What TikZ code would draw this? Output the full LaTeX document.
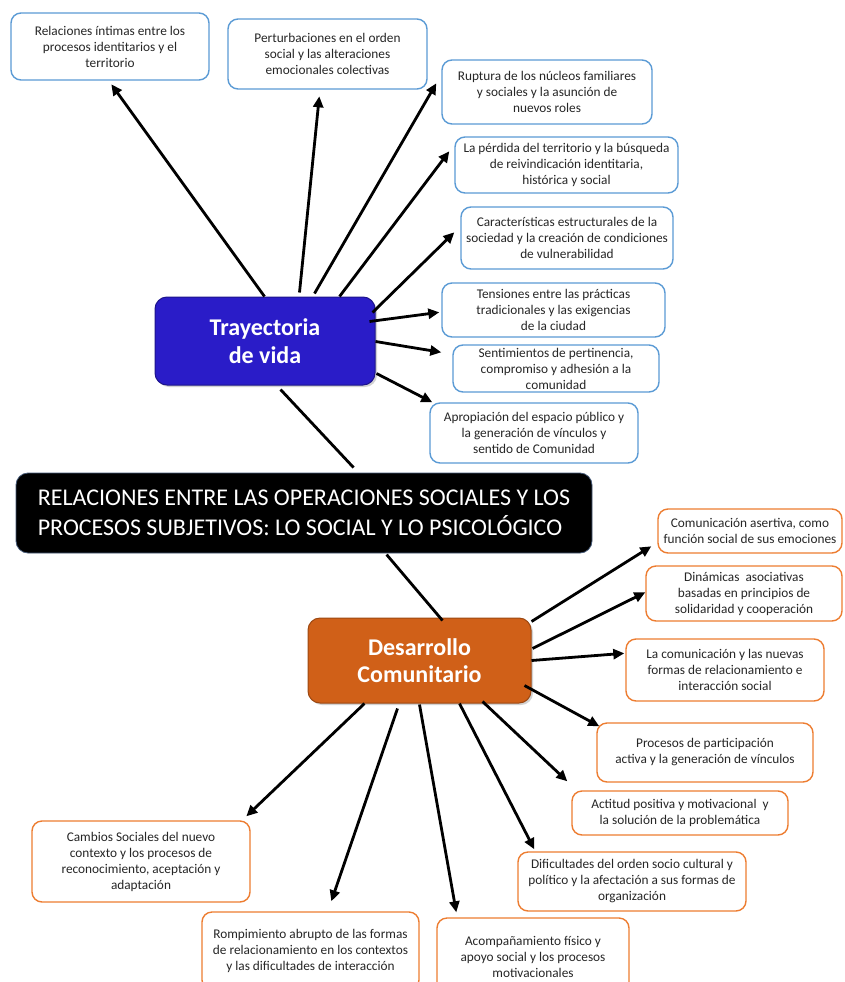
\documentclass[tikz,border=0pt]{standalone}
\usepackage{fontspec}
\setmainfont{Carlito}
\usetikzlibrary{arrows.meta,calc,shadows}
\definecolor{boxblue}{RGB}{91,155,213}
\definecolor{boxorange}{RGB}{237,125,49}
\definecolor{trayfill}{RGB}{42,28,200}
\definecolor{devfill}{RGB}{208,96,24}
\definecolor{titleedge}{RGB}{70,90,120}

\begin{document}
\begin{tikzpicture}[x=1pt,y=-1pt,
  box/.style={rounded corners=10pt, line width=1.4pt, fill=white, align=center,
    inner sep=0pt, font=\fontsize{13.3}{16}\selectfont, text=black!85},
  bluebox/.style={box, draw=boxblue},
  orangebox/.style={box, draw=boxorange},
  hub/.style={rounded corners=12pt, align=center, inner sep=0pt, text=white,
    font=\bfseries\fontsize{24}{27.5}\selectfont, line width=1pt,
    drop shadow={opacity=0.35,shadow xshift=2pt,shadow yshift=-2pt}},
  arr/.style={line width=2.8pt, -{Triangle[length=11pt,width=10pt]}},
  link/.style={line width=2.8pt},
]
\clip (0,0) rectangle (844,982);
\fill[white] (0,0) rectangle (844,982);

% central title
\node[rounded corners=12pt, fill=black, draw=titleedge, line width=0.8pt,
  minimum width=576pt, minimum height=80pt, align=left,
  inner sep=0pt, text=white, font=\fontsize{24}{30}\selectfont] (title) at (304,513)
  {RELACIONES ENTRE LAS OPERACIONES SOCIALES Y LOS\\PROCESOS SUBJETIVOS: LO SOCIAL Y LO PSICOLÓGICO};

% hubs
\node[hub, fill=trayfill, draw=trayfill!70!black, minimum width=220pt, minimum height=88pt] (tray) at (265,341)
  {Trayectoria\\de vida};
\node[hub, fill=devfill, draw=devfill!75!black, minimum width=223pt, minimum height=85pt] (dev) at (419.5,660.5)
  {Desarrollo\\Comunitario};

% blue boxes (Trayectoria de vida)
\node[bluebox, minimum width=198pt, minimum height=67pt] (b1) at (110,46.5)
  {Relaciones íntimas entre los\\procesos identitarios y el\\territorio};
\node[bluebox, minimum width=199pt, minimum height=70pt] (b2) at (327.5,54)
  {Perturbaciones en el orden\\social y las alteraciones\\emocionales colectivas};
\node[bluebox, minimum width=210pt, minimum height=64pt] (b3) at (547,92)
  {Ruptura de los núcleos familiares\\y sociales y la asunción de\\nuevos roles};
\node[bluebox, minimum width=223pt, minimum height=56pt] (b4) at (566.5,165)
  {La pérdida del territorio y la búsqueda\\de reivindicación identitaria,\\histórica y social};
\node[bluebox, minimum width=212pt, minimum height=62pt] (b5) at (567,238)
  {Características estructurales de la\\sociedad y la creación de condiciones\\de vulnerabilidad};
\node[bluebox, minimum width=223pt, minimum height=54pt] (b6) at (553.5,310)
  {Tensiones entre las prácticas\\tradicionales y las exigencias\\de la ciudad};
\node[bluebox, minimum width=206pt, minimum height=47pt] (b7) at (556,368.5)
  {Sentimientos de pertinencia,\\compromiso y adhesión a la\\comunidad};
\node[bluebox, minimum width=208pt, minimum height=60pt] (b8) at (534,433)
  {Apropiación del espacio público y\\la generación de vínculos y\\sentido de Comunidad};

% orange boxes (Desarrollo Comunitario)
\node[orangebox, minimum width=184pt, minimum height=44pt] (o1) at (750,531)
  {Comunicación asertiva, como\\función social de sus emociones};
\node[orangebox, minimum width=196pt, minimum height=55pt] (o2) at (744,593.5)
  {Dinámicas\ \ asociativas\\basadas en principios de\\solidaridad y cooperación};
\node[orangebox, minimum width=198pt, minimum height=62pt] (o3) at (725,670)
  {La comunicación y las nuevas\\formas de relacionamiento e\\interacción social};
\node[orangebox, minimum width=216pt, minimum height=59pt] (o4) at (705,752.5)
  {Procesos de participación\\activa y la generación de vínculos};
\node[orangebox, minimum width=216pt, minimum height=44pt] (o5) at (680,813)
  {Actitud positiva y motivacional\ \ y\\la solución de la problemática};
\node[orangebox, minimum width=228pt, minimum height=59pt] (o6) at (632,881.5)
  {Dificultades del orden socio cultural y\\político y la afectación a sus formas de\\organización};
\node[orangebox, minimum width=192pt, minimum height=77pt] (o7) at (533,956.5)
  {Acompañamiento físico y\\apoyo social y los procesos\\motivacionales};
\node[orangebox, minimum width=217pt, minimum height=78pt] (o8) at (310.5,951)
  {Rompimiento abrupto de las formas\\de relacionamiento en los contextos\\y las dificultades de interacción};
\node[orangebox, minimum width=218pt, minimum height=81pt] (o9) at (141,861.5)
  {Cambios Sociales del nuevo\\contexto y los procesos de\\reconocimiento, aceptación y\\adaptación};

% links between the title and the hubs
\draw[link] ($(tray.north west)+(126,93)$) -- ($(title.north west)+(338,-5)$);
\draw[link] ($(title.north west)+(371,82)$) -- ($(dev.north west)+(135,3)$);

% arrows from Trayectoria de vida
\draw[arr] ($(tray.north west)+(110,0)$)  -- ($(b1.north west)+(101,72)$);
\draw[arr] ($(tray.north west)+(145,-4)$) -- ($(b2.north west)+(92,78)$);
\draw[arr] ($(tray.north west)+(160,-3)$) -- ($(b3.north west)+(-5,24)$);
\draw[arr] ($(tray.north west)+(185,0)$)  -- ($(b4.north west)+(-5,15)$);
\draw[arr] ($(tray.north west)+(218,16)$) -- ($(b5.north west)+(-6,26)$);
\draw[arr] ($(tray.north west)+(215,25)$) -- ($(b6.north west)+(-2,30)$);
\draw[arr] ($(tray.north west)+(221,45)$) -- ($(b7.north west)+(-11,8)$);
\draw[arr] ($(tray.north west)+(222,77)$) -- ($(b8.north west)+(3,0)$);

% arrows from Desarrollo Comunitario
\draw[arr] ($(dev.north west)+(224,4)$)  -- ($(o1.north west)+(-6,38)$);
\draw[arr] ($(dev.north west)+(225,31)$) -- ($(o2.north west)+(0,27)$);
\draw[arr] ($(dev.north west)+(224,43)$) -- ($(o3.north west)+(-1,15)$);
\draw[arr] ($(dev.north west)+(217,68)$) -- ($(o4.north west)+(3,4)$);
\draw[arr] ($(dev.north west)+(175,84)$) -- ($(o5.north west)+(-4,-9)$);
\draw[arr] ($(dev.north west)+(152,86)$) -- ($(o6.north west)+(17,-2)$);
\draw[arr] ($(dev.north west)+(112,87)$) -- ($(o7.north west)+(20,-5)$);
\draw[arr] ($(dev.north west)+(90,91)$)  -- ($(o8.north west)+(130,-10)$);
\draw[arr] ($(dev.north west)+(57,86)$)  -- ($(o9.north west)+(215,-4)$);
\end{tikzpicture}
\end{document}
